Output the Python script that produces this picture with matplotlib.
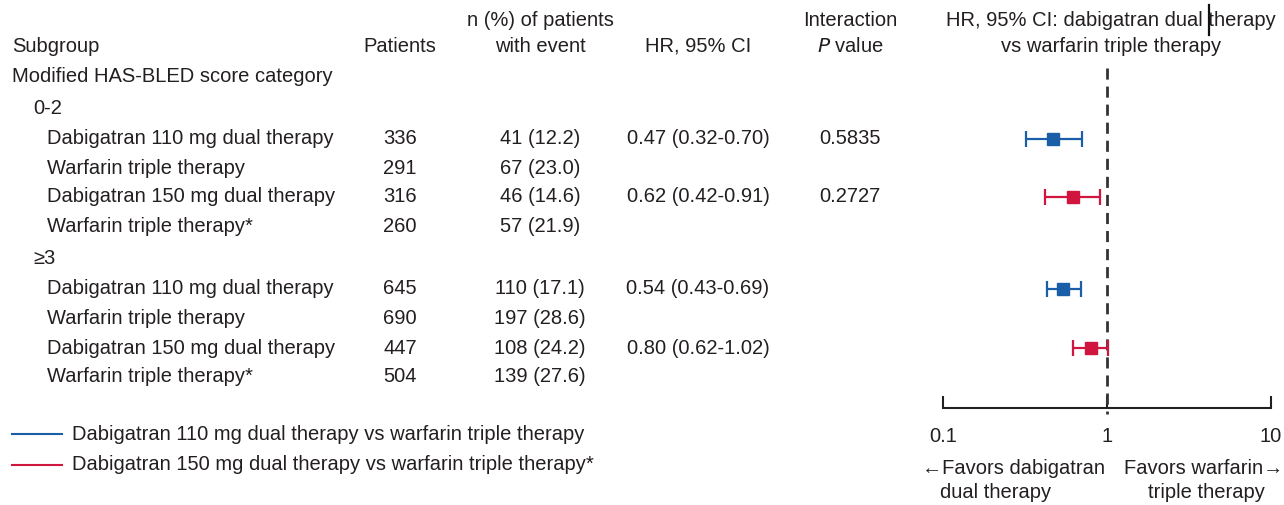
import numpy as np
import matplotlib.pyplot as plt

plt.rcParams['font.family'] = ['Liberation Sans', 'DejaVu Sans']

# rows of the table (subgroup entries)
labels = ["Dabigatran 110 mg dual therapy", "Warfarin triple therapy",
          "Dabigatran 150 mg dual therapy", "Warfarin triple therapy*",
          "Dabigatran 110 mg dual therapy", "Warfarin triple therapy",
          "Dabigatran 150 mg dual therapy", "Warfarin triple therapy*"]
patients = [336, 291, 316, 260, 645, 690, 447, 504]
events = [41, 67, 46, 57, 110, 197, 108, 139]
pct = [12.2, 23.0, 14.6, 21.9, 17.1, 28.6, 24.2, 27.6]

# hazard ratios for the dabigatran rows
hr_rows = [0, 2, 4, 6]
hr = [0.47, 0.62, 0.54, 0.80]
hr_lo = [0.32, 0.42, 0.43, 0.62]
hr_hi = [0.70, 0.91, 0.69, 1.02]
p_interaction = {0: "0.5835", 2: "0.2727"}
groups = ["0-2", "\u22653"]

blue = "#1a5ea8"
red = "#d0163f"
txt = "#231f20"
series_col = [blue, red, blue, red]

row_y = [139, 169, 197, 227, 289, 318, 348, 377]
group_y = [108, 259]

fig = plt.figure(figsize=(12.84, 5.05), dpi=100)
ax = fig.add_axes([0, 0, 1, 1])
ax.set_xlim(0, 1284)
ax.set_ylim(505, 0)
ax.axis("off")

fs = 14.5
kw = dict(fontsize=fs, color=txt, va="center")

# column headers
ax.text(12, 46, "Subgroup", ha="left", **kw)
ax.text(400, 46, "Patients", ha="center", **kw)
ax.text(540, 20, "n (%) of patients", ha="center", **kw)
ax.text(540, 46, "with event", ha="center", **kw)
ax.text(698, 46, "HR, 95% CI", ha="center", **kw)
ax.text(850, 20, "Interaction", ha="center", **kw)
ax.text(850, 46, "$\\it{P}$ value", ha="center", **kw)
ax.text(1111, 20, "HR, 95% CI: dabigatran dual therapy", ha="center", **kw)
ax.text(1111, 46, "vs warfarin triple therapy", ha="center", **kw)
ax.text(12, 76, "Modified HAS-BLED score category", ha="left", **kw)
ax.plot([1209, 1209], [5, 35], color="#111111", lw=1.6)

for g, gy in zip(groups, group_y):
    ax.text(33, gy, g, ha="left", **kw)

for i, y in enumerate(row_y):
    ax.text(47, y, labels[i], ha="left", **kw)
    ax.text(400, y, str(patients[i]), ha="center", **kw)
    ax.text(540, y, f"{events[i]} ({pct[i]:.1f})", ha="center", **kw)
    if i in p_interaction:
        ax.text(850, y, p_interaction[i], ha="center", **kw)

for k, i in enumerate(hr_rows):
    ax.text(698, row_y[i], f"{hr[k]:.2f} ({hr_lo[k]:.2f}-{hr_hi[k]:.2f})",
            ha="center", **kw)

# legend
ax.plot([12, 62], [434, 434], color=blue, lw=1.5)
ax.plot([12, 62], [465, 465], color=red, lw=1.5)
ax.text(72, 434, "Dabigatran 110 mg dual therapy vs warfarin triple therapy", ha="left", **kw)
ax.text(72, 465, "Dabigatran 150 mg dual therapy vs warfarin triple therapy*", ha="left", **kw)

# forest plot
fx = fig.add_axes([943 / 1284, 0, 328 / 1284, 1])
fx.set_xscale("log")
fx.set_xlim(0.1, 10)
fx.set_ylim(505, 0)
fx.patch.set_visible(False)
for s in ["top", "left", "right"]:
    fx.spines[s].set_visible(False)
fx.spines["bottom"].set_position(("data", 408))
fx.spines["bottom"].set_linewidth(1.5)
fx.spines["bottom"].set_color(txt)
fx.set_yticks([])
fx.set_xticks([0.1, 1, 10])
fx.set_xticklabels(["0.1", "1", "10"])
fx.xaxis.set_minor_locator(plt.NullLocator())
fx.tick_params(axis="x", direction="in", length=9, width=1.5, color=txt,
               labelsize=fs, labelcolor=txt, pad=14)

fx.plot([1, 1], [68, 414], color="#333333", lw=2, ls=(0, (4, 2.5)))

for k, i in enumerate(hr_rows):
    y = row_y[i]
    fx.errorbar(hr[k], y, xerr=[[hr[k] - hr_lo[k]], [hr_hi[k] - hr[k]]],
                fmt="s", color=series_col[k], ecolor=series_col[k], elinewidth=1.6,
                capsize=5.5, capthick=1.6, markersize=9)

ax.text(922, 468, "\u2190Favors dabigatran", ha="left", **kw)
ax.text(940, 493, "dual therapy", ha="left", **kw)
ax.text(1283, 468, "Favors warfarin\u2192", ha="right", **kw)
ax.text(1265, 493, "triple therapy", ha="right", **kw)

fig.savefig("out.png", dpi=100)
